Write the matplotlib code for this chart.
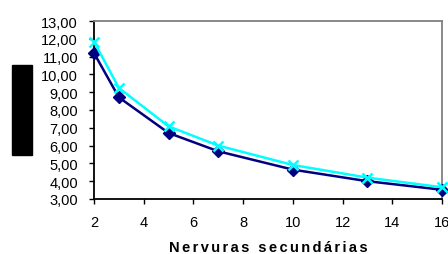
import matplotlib
matplotlib.use("Agg")
import matplotlib.pyplot as plt
from matplotlib.patches import Rectangle

plt.rcParams['font.family'] = ['Liberation Sans', 'DejaVu Sans']

#values
nervuras = [2, 3, 5, 7, 10, 13, 16]
serie_escura = [11.20, 8.71, 6.71, 5.68, 4.65, 4.00, 3.52]
serie_clara = [11.84, 9.24, 7.08, 6.00, 4.91, 4.20, 3.66]
x_ticks = [2, 4, 6, 8, 10, 12, 14, 16]
y_ticks = [3, 4, 5, 6, 7, 8, 9, 10, 11, 12, 13]
y_labels = ["%d,00" % v for v in y_ticks]
x_titulo = "Nervuras secundárias"

fig = plt.figure(figsize=(4.48, 2.55), dpi=100)
ax = fig.add_axes([94/448, 1-200/255, 348/448, 178/255])

ax.plot(nervuras, serie_escura, color="#000080", lw=1.8, marker="D",
        ms=6, mfc="#000080", mec="#000080", clip_on=False, zorder=3)
ax.plot(nervuras, serie_clara, color="#00FFFF", lw=1.8, marker="x",
        ms=7, mew=1.8, clip_on=False, zorder=4)

ax.set_xlim(2, 16)
ax.set_ylim(3, 13)
ax.set_xticks(x_ticks)
ax.set_xticklabels([str(v) for v in x_ticks])
ax.set_yticks(y_ticks)
ax.set_yticklabels(y_labels)
ax.tick_params(axis="both", labelsize=10.5, length=3.5, width=1, direction="out",
               color="black")
ax.tick_params(axis="y", pad=8)
ax.tick_params(axis="x", pad=8)

for s in ["left", "bottom"]:
    ax.spines[s].set_color("black")
    ax.spines[s].set_linewidth(1.3)
for s in ["top", "right"]:
    ax.spines[s].set_color("#808080")
    ax.spines[s].set_linewidth(1.3)

#spaced out bold title under the axis (six-per-em space between letters)
fig.text(268/448, 1-252/255, "\u2006".join(x_titulo), fontsize=10.5,
         fontweight="bold", ha="center", va="baseline")

#black block where the y label sits
fig.patches.append(Rectangle((12/448, 1-156/255), 20/448, 90/255,
                             transform=fig.transFigure, color="black"))

fig.savefig("out.png", dpi=100)
